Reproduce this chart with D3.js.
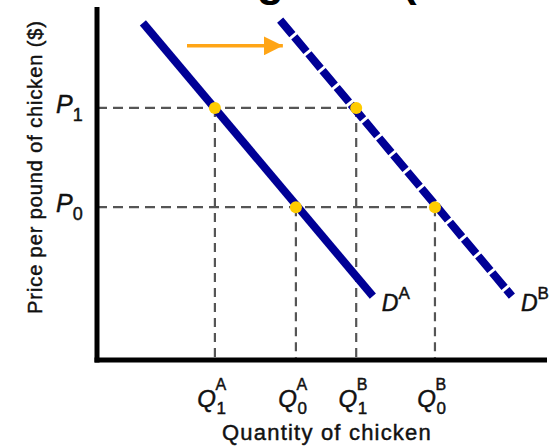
<!DOCTYPE html>
<html><head><meta charset="utf-8">
<script src="https://cdn.jsdelivr.net/npm/d3@7"></script>
<style>
html,body{margin:0;padding:0;background:#fff;}
svg{display:block;font-family:"Liberation Sans",Arial,sans-serif;}
.lbl{stroke:#111;stroke-width:0.45px;fill:#111;}
</style></head>
<body><svg id="c" width="554" height="446"></svg>
<script>
// ---- data (abstract units: quantity 0..100, price 0..100) ----
const curveNames = ["A", "B"];
const curveA = [{q: 10.2, p: 95.5}, {q: 61.3, p: 18.1}];
const curveB = [{q: 40.7, p: 96.3}, {q: 92.2, p: 18.1}];
const priceLevels = [{name: "1", p: 71.4}, {name: "0", p: 43.3}];
const equilibria = [
  {curve: "A", sub: "1", q: 26.2, p: 71.4},
  {curve: "A", sub: "0", q: 44.2, p: 43.3},
  {curve: "B", sub: "1", q: 57.6, p: 71.4},
  {curve: "B", sub: "0", q: 75.1, p: 43.3}
];
const shiftArrow = [{q: 20.0, p: 89.0}, {q: 41.3, p: 89.0}];
const xTitle = "Quantity of chicken";
const yTitle = "Price per pound of chicken ($)";

const svg = d3.select("#c");
const x = d3.scaleLinear().domain([0, 100]).range([97, 547]);
const y = d3.scaleLinear().domain([0, 100]).range([360, 7]);

const navy = "#000096", orange = "#ffa516", gold = "#ffcc00", guide = "#555";

// partial title at top (cut off in the original)
svg.append("text").attr("x", 284).attr("y", -4).attr("text-anchor", "end")
  .attr("font-size", 44).attr("font-weight", "bold").attr("fill", "#000").text("Demand shifting");
svg.append("text").attr("x", 402).attr("y", -4)
  .attr("font-size", 44).attr("font-weight", "bold").attr("fill", "#000").text("(Chicken)");

// guide lines
const g = svg.append("g");
equilibria.forEach(d => {
  g.append("line").attr("x1", x(d.q)).attr("x2", x(d.q)).attr("y1", y(d.p)).attr("y2", y(0))
    .attr("stroke", guide).attr("stroke-width", 2.2).attr("stroke-dasharray", "9,6");
});
priceLevels.forEach(lv => {
  const maxQ = d3.max(equilibria.filter(e => e.p === lv.p), e => e.q);
  g.append("line").attr("x1", x(0)).attr("x2", x(maxQ)).attr("y1", y(lv.p)).attr("y2", y(lv.p))
    .attr("stroke", guide).attr("stroke-width", 2.2).attr("stroke-dasharray", "10,6");
});

// axes
svg.append("line").attr("x1", x(0)).attr("x2", x(0)).attr("y1", y(100)).attr("y2", y(0) + 2.5)
  .attr("stroke", "#000").attr("stroke-width", 5);
svg.append("line").attr("x1", x(0) - 2.5).attr("x2", x(100)).attr("y1", y(0)).attr("y2", y(0))
  .attr("stroke", "#000").attr("stroke-width", 5);

// demand curves
const line = d3.line().x(d => x(d.q)).y(d => y(d.p));
svg.append("path").attr("d", line(curveA)).attr("stroke", navy).attr("stroke-width", 8).attr("fill", "none");
svg.append("path").attr("d", line(curveB)).attr("stroke", navy).attr("stroke-width", 8).attr("fill", "none")
  .attr("stroke-dasharray", "19,3");

// curve labels
[[curveA, curveNames[0]], [curveB, curveNames[1]]].forEach(([c, n]) => {
  const end = c[c.length - 1];
  const t = svg.append("text").attr("class", "lbl").attr("x", x(end.q) + 9).attr("y", y(end.p) + 15)
    .attr("font-size", 23).attr("font-style", "italic");
  t.append("tspan").text("D");
  t.append("tspan").attr("font-size", 17).attr("font-style", "normal").attr("dy", -12).attr("dx", 0).text(n);
});

// shift arrow
svg.append("defs").append("marker").attr("id", "ah").attr("viewBox", "0 0 10 10")
  .attr("refX", 10).attr("refY", 5).attr("markerWidth", 5.5).attr("markerHeight", 5.5)
  .attr("markerUnits", "strokeWidth").attr("orient", "auto")
  .append("path").attr("d", "M0,0 L10,5 L0,10 Z").attr("fill", orange);
svg.append("line").attr("x1", x(shiftArrow[0].q)).attr("y1", y(shiftArrow[0].p))
  .attr("x2", x(shiftArrow[1].q)).attr("y2", y(shiftArrow[1].p))
  .attr("stroke", orange).attr("stroke-width", 3.5).attr("marker-end", "url(#ah)");

// equilibrium dots
svg.selectAll("circle.eq").data(equilibria).join("circle").attr("class", "eq")
  .attr("cx", d => x(d.q)).attr("cy", d => y(d.p)).attr("r", 6).attr("fill", gold);

// P labels
priceLevels.forEach(lv => {
  const t = svg.append("text").attr("class", "lbl").attr("x", 56).attr("y", y(lv.p) + 5)
    .attr("font-size", 25).attr("font-style", "italic");
  t.append("tspan").text("P");
  t.append("tspan").attr("font-size", 18).attr("font-style", "normal").attr("dy", 8).text(lv.name);
});

// Q labels
equilibria.forEach(d => {
  const xx = x(d.q);
  svg.append("text").attr("class", "lbl").attr("x", xx + 1).attr("y", 407).attr("text-anchor", "end")
    .attr("font-size", 24).attr("font-style", "italic").text("Q");
  svg.append("text").attr("class", "lbl").attr("x", xx + 0.5).attr("y", 390)
    .attr("font-size", 16).text(d.curve);
  svg.append("text").attr("class", "lbl").attr("x", xx + 1.5).attr("y", 414)
    .attr("font-size", 17).text(d.sub);
});

// axis titles
svg.append("text").attr("class", "lbl").attr("x", 327).attr("y", 440).attr("text-anchor", "middle")
  .attr("font-size", 22).attr("letter-spacing", 1.2).text(xTitle);
svg.append("text").attr("class", "lbl").attr("transform", "translate(42,167) rotate(-90)").attr("text-anchor", "middle")
  .attr("font-size", 20).attr("letter-spacing", 0.9).text(yTitle);
</script>
</body></html>
